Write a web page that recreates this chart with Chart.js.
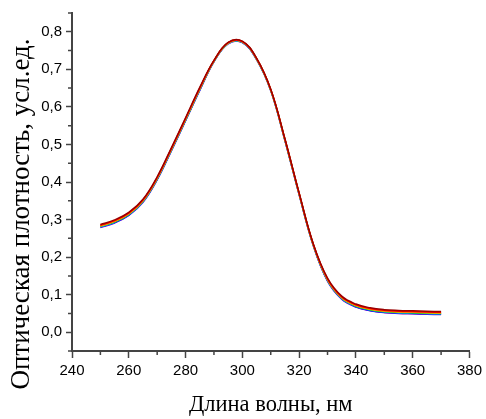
<!DOCTYPE html>
<html>
<head>
<meta charset="utf-8">
<script src="https://cdn.jsdelivr.net/npm/chart.js@4.4.1/dist/chart.umd.min.js"></script>
<style>
  html, body { margin: 0; padding: 0; background: #fff; }
  #wrap { width: 486px; height: 419px; position: relative; }
</style>
</head>
<body>
<div id="wrap"><canvas id="spectra"></canvas></div>
<script>
// wavelength, nm
const wavelengths = [250, 255, 260, 265, 270, 275, 280, 285, 290, 295, 300, 305, 310,
                     315, 320, 325, 330, 335, 340, 345, 350, 355, 360, 365, 370];

// optical density, one array per spectrum
const darkRed = [0.287, 0.299, 0.319, 0.354, 0.414, 0.491, 0.571, 0.652, 0.724, 0.772, 0.775, 0.730, 0.647,
                 0.515, 0.371, 0.235, 0.144, 0.096, 0.075, 0.065, 0.060, 0.058, 0.057, 0.056, 0.055];
const red     = [0.285, 0.297, 0.317, 0.352, 0.412, 0.489, 0.569, 0.650, 0.723, 0.771, 0.774, 0.729, 0.646,
                 0.514, 0.370, 0.234, 0.142, 0.094, 0.073, 0.063, 0.058, 0.056, 0.055, 0.054, 0.053];
const orange  = [0.284, 0.296, 0.316, 0.351, 0.411, 0.488, 0.568, 0.649, 0.723, 0.771, 0.774, 0.729, 0.646,
                 0.513, 0.369, 0.233, 0.141, 0.093, 0.072, 0.062, 0.057, 0.055, 0.054, 0.053, 0.052];
const yellow  = [0.283, 0.295, 0.315, 0.350, 0.410, 0.487, 0.567, 0.648, 0.722, 0.770, 0.773, 0.728, 0.645,
                 0.513, 0.369, 0.233, 0.140, 0.092, 0.071, 0.061, 0.056, 0.054, 0.053, 0.052, 0.051];
const green   = [0.282, 0.294, 0.314, 0.349, 0.409, 0.486, 0.566, 0.647, 0.722, 0.770, 0.773, 0.728, 0.645,
                 0.512, 0.368, 0.232, 0.139, 0.091, 0.070, 0.060, 0.055, 0.053, 0.052, 0.051, 0.050];
const cyan    = [0.281, 0.293, 0.313, 0.348, 0.408, 0.485, 0.565, 0.646, 0.721, 0.769, 0.772, 0.727, 0.644,
                 0.512, 0.368, 0.232, 0.138, 0.090, 0.069, 0.059, 0.054, 0.052, 0.051, 0.050, 0.049];
const blue    = [0.280, 0.292, 0.312, 0.347, 0.407, 0.484, 0.564, 0.645, 0.721, 0.769, 0.772, 0.727, 0.644,
                 0.511, 0.367, 0.231, 0.137, 0.089, 0.068, 0.058, 0.053, 0.051, 0.050, 0.049, 0.048];
const violet  = [0.279, 0.291, 0.311, 0.346, 0.406, 0.483, 0.563, 0.644, 0.720, 0.768, 0.771, 0.726, 0.643,
                 0.510, 0.366, 0.230, 0.136, 0.088, 0.067, 0.057, 0.052, 0.050, 0.049, 0.048, 0.047];

const xTicks = [240, 260, 280, 300, 320, 340, 360, 380];
const xMinorTicks = [250, 270, 290, 310, 330, 350, 370];
const yTicks = [0.0, 0.1, 0.2, 0.3, 0.4, 0.5, 0.6, 0.7, 0.8];
const yMinorTicks = [-0.05, 0.05, 0.15, 0.25, 0.35, 0.45, 0.55, 0.65, 0.75, 0.85];

const xTitle = 'Длина волны, нм';
const yTitle = 'Оптическая плотность, усл.ед.';

// top dataset first (chart.js paints index 0 last)
const series = [
    { data: darkRed, color: '#990000' },
    { data: red,     color: '#ff0000' },
    { data: orange,  color: '#ff8000' },
    { data: yellow,  color: '#ffd800' },
    { data: green,   color: '#00b000' },
    { data: cyan,    color: '#00c8ff' },
    { data: blue,    color: '#0000ff' },
    { data: violet,  color: '#8000c0' }
];

const axisColor = '#444';
const serif = '"Times New Roman", "Liberation Serif", serif';

// small ticks between the labelled ones + rotated y title
const extras = {
    id: 'extras',
    afterDraw(chart) {
        const ctx = chart.ctx;
        const xs = chart.scales.x, ys = chart.scales.y;
        const area = chart.chartArea;
        ctx.save();
        ctx.strokeStyle = axisColor;
        ctx.lineWidth = 1.5;
        ctx.beginPath();
        xMinorTicks.forEach(v => {
            const px = xs.getPixelForValue(v);
            ctx.moveTo(px, area.bottom);
            ctx.lineTo(px, area.bottom + 4);
        });
        yMinorTicks.forEach(v => {
            const py = ys.getPixelForValue(v);
            ctx.moveTo(area.left, py);
            ctx.lineTo(area.left - 4, py);
        });
        ctx.stroke();

        ctx.translate(22, 214);
        ctx.rotate(-Math.PI / 2);
        ctx.fillStyle = '#000';
        ctx.font = 'normal 27px ' + serif;
        ctx.textAlign = 'center';
        ctx.textBaseline = 'middle';
        ctx.fillText(yTitle, 0, 0);
        ctx.restore();
    }
};

Chart.defaults.font.family = '"Liberation Sans", Arial, sans-serif';
Chart.defaults.font.size = 15;
Chart.defaults.color = '#000';

new Chart(document.getElementById('spectra'), {
    type: 'line',
    data: {
        datasets: series.map(s => ({
            data: wavelengths.map((w, i) => ({ x: w, y: s.data[i] })),
            borderColor: s.color,
            borderWidth: 1.5,
            pointRadius: 0,
            fill: false,
            tension: 0.4
        }))
    },
    options: {
        responsive: true,
        maintainAspectRatio: false,
        animation: false,
        layout: { padding: { top: 13, right: 15, left: 0, bottom: 0 } },
        plugins: {
            legend: { display: false },
            tooltip: { enabled: false }
        },
        scales: {
            x: {
                type: 'linear',
                min: 240,
                max: 380,
                afterBuildTicks: scale => { scale.ticks = xTicks.map(v => ({ value: v })); },
                afterFit: scale => { scale.height = 68; },
                ticks: { padding: 4, maxRotation: 0, autoSkip: false },
                grid: { drawOnChartArea: false, tickLength: 7, tickColor: axisColor, tickWidth: 1.5 },
                border: { color: axisColor, width: 2 },
                title: {
                    display: true,
                    text: xTitle,
                    font: { family: serif, size: 22.5, style: 'normal' },
                    padding: { top: 0, bottom: 0 }
                }
            },
            y: {
                type: 'linear',
                min: -0.05,
                max: 0.85,
                afterBuildTicks: scale => { scale.ticks = yTicks.map(v => ({ value: v })); },
                afterFit: scale => { scale.width = 72; },
                ticks: {
                    padding: 4,
                    autoSkip: false,
                    callback: v => v.toFixed(1).replace('.', ',')
                },
                grid: { drawOnChartArea: false, tickLength: 6, tickColor: axisColor, tickWidth: 1.5 },
                border: { color: axisColor, width: 2 }
            }
        }
    },
    plugins: [extras]
});
</script>
</body>
</html>
